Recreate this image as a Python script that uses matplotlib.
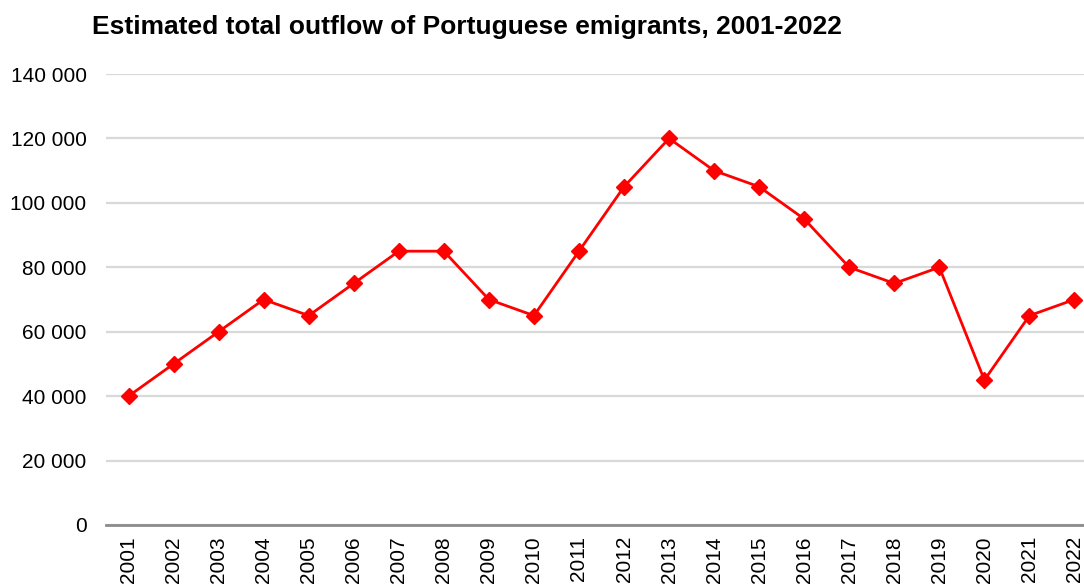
import matplotlib
matplotlib.use("Agg")
import matplotlib.pyplot as plt
from matplotlib.ticker import FuncFormatter

years = [str(y) for y in range(2001, 2023)]
outflow = [40000, 50000, 60000, 70000, 65000, 75000, 85000, 85000, 70000, 65000,
           85000, 105000, 120000, 110000, 105000, 95000, 80000, 75000, 80000,
           45000, 65000, 70000]
yticks = list(range(0, 140001, 20000))

plt.rcParams['font.family'] = ['Liberation Sans', 'DejaVu Sans']

fig = plt.figure(figsize=(10.84, 5.86), dpi=100)
ax = fig.add_axes([106/1084, 1-525/586, (1097-106)/1084, (525-74)/586])

x = list(range(len(years)))
ax.plot(x, outflow, color='#ff0000', linewidth=2, marker='D', markersize=8,
        markerfacecolor='#ff0000', markeredgecolor='#ff0000', zorder=3, clip_on=False)

ax.set_xlim(-0.5, len(years) - 0.5)
ax.set_ylim(0, 140000)
ax.set_yticks(yticks)
ax.yaxis.set_major_formatter(FuncFormatter(lambda v, p: f"{int(v):,}".replace(",", " ")))
ax.set_xticks(x)
ax.set_xticklabels(years, rotation=90, va='top', ha='center')

ax.grid(axis='y', color='#d9d9d9', linewidth=1.6)
ax.set_axisbelow(True)
for s in ['top', 'right', 'left']:
    ax.spines[s].set_visible(False)
ax.spines['bottom'].set_color('#8c8c8c')
ax.spines['bottom'].set_linewidth(2)
ax.spines['bottom'].set_zorder(2)
ax.tick_params(axis='both', length=0, labelsize=15, colors='black')
ax.tick_params(axis='y', pad=14)
ax.tick_params(axis='x', pad=8)

fig.text(92/1084, 1-27/586, "Estimated total outflow of Portuguese emigrants, 2001-2022",
         fontsize=19, fontweight='bold', va='center', ha='left')

fig.savefig("out.png", dpi=100)
